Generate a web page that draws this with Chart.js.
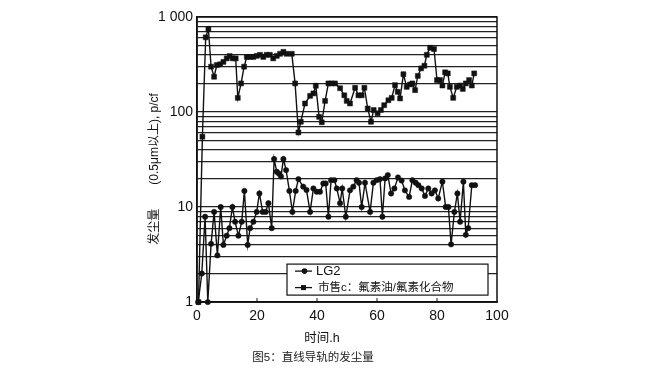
<!DOCTYPE html>
<html>
<head>
<meta charset="utf-8">
<title>图5：直线导轨的发尘量</title>
<script src="https://cdn.jsdelivr.net/npm/chart.js@4.4.1/dist/chart.umd.min.js"></script>
<style>
  html, body { margin: 0; padding: 0; background: #fff; }
  #wrap { width: 645px; height: 375px; }
</style>
</head>
<body>
<div id="wrap"><canvas id="dust" width="645" height="375"></canvas></div>
<script>
// ---- 数据 ----
const seriesNames = ["LG2", "市售c：氟素油/氟素化合物"];

// LG2 （圆点）
const lg2Hours = [0.4, 1.6, 2.7, 3.6, 4.7, 5.7, 6.8, 7.9, 8.8, 9.9, 10.8, 11.8, 12.7, 13.8, 14.9,
  15.8, 16.9, 17.7, 18.8, 19.9, 20.8, 21.9, 22.9, 23.8, 24.9, 25.7, 26.6, 27.3, 28, 28.8, 29.7,
  30.8, 31.8, 32.9, 33.8, 35.4, 36.5, 37.7, 38.8, 39.9, 41, 42.1, 42.9, 43.8, 44.7, 45.8, 46.6,
  47.7, 48.4, 49.6, 51, 52.1, 53.2, 54, 54.9, 56, 57.7, 58.8, 59.9, 61, 61.8, 62.7, 63.6, 64.7,
  65.8, 67, 68.2, 69.3, 70.7, 71.8, 72.9, 73.8, 74.9, 76, 77.1, 78.2, 79.3, 80.4, 81.8, 82.9,
  83.8, 84.7, 85.8, 86.8, 87.7, 88.8, 89.6, 90.4, 91.6, 92.7];
const lg2Values = [1, 2, 7.9, 1, 4.1, 8.9, 3.1, 10, 4, 5, 6, 10, 7, 5, 7,
  14.8, 4, 6, 7, 8.9, 13.9, 8.9, 8.9, 11, 6, 32, 23.5, 22.5, 21, 32, 24.5,
  14.8, 8.9, 14.8, 19.7, 16.4, 15.1, 8.9, 15.7, 14.5, 14.5, 17.7, 17.7, 7.9, 19.2, 19.2, 15.7,
  11, 15.7, 7.9, 15, 16.4, 19.2, 18, 10, 18, 8.9, 18, 19.2, 19.7, 7.9, 20, 21.7, 13.9,
  15.7, 20.5, 19, 15, 12.8, 19.2, 18, 17, 15.7, 13.1, 15.7, 13.9, 15, 12.3, 18.5, 10,
  10, 4.05, 8.9, 13.9, 7, 18.5, 5.1, 6, 17, 17];

// 市售c （方块）
const commHours = [0.5, 1.8, 2.9, 3.8, 4.7, 5.7, 6.6, 7.7, 8.8, 9.9, 10.9, 11.9, 12.9, 13.6, 14.7,
  15.7, 16.6, 17.7, 18.8, 19.9, 21, 22.1, 23.2, 24.3, 25.4, 26.6, 27.7, 28.8, 29.9, 31.6, 32.7,
  33.8, 34.6, 36, 37.7, 38.8, 39.6, 40.7, 41.6, 42.7, 43.8, 44.9, 46, 47.7, 49.1, 49.9, 51,
  52.7, 53.8, 54.9, 55.8, 56.9, 58, 58.9, 60.2, 61.3, 62.4, 63.8, 64.9, 66, 66.9, 67.7, 68.8,
  69.9, 71, 71.8, 72.7, 73.6, 74.7, 75.8, 76.6, 77.7, 79, 80, 81, 81.8, 82.7, 83.6, 84.3,
  85.4, 86.6, 87.7, 88.6, 89.6, 90.7, 91.6, 92.4];
const commValues = [1, 55, 611, 748, 300, 235, 312, 318, 337, 367, 388, 367, 367, 141, 200,
  300, 380, 380, 380, 390, 400, 380, 400, 400, 367, 390, 410, 430, 410, 410, 200,
  61, 79, 123, 148, 157, 189, 89, 78, 131, 200, 200, 200, 178, 150, 131, 123,
  180, 150, 150, 180, 109, 79, 105, 97, 105, 118, 133, 141, 192, 163, 139, 250,
  184, 195, 200, 170, 240, 288, 307, 400, 475, 460, 217, 217, 190, 262, 255, 184,
  141, 184, 190, 175, 200, 217, 190, 255];

// 坐标轴刻度
const xTicks = [0, 20, 40, 60, 80, 100];
const yGridValues = [1, 2, 3, 4, 5, 6, 7, 8, 9, 10, 20, 30, 40, 50, 60, 70, 80, 90,
  100, 200, 300, 400, 500, 600, 700, 800, 900, 1000];
const yTickLabels = { 1: "1", 10: "10", 100: "100", 1000: "1 000" };

const INK = "#111";
Chart.defaults.font.family = "'Liberation Sans', 'Noto Sans CJK SC', sans-serif";
Chart.defaults.color = INK;

const pairs = (hs, vs) => hs.map((h, i) => ({ x: h, y: vs[i] }));

// 图框 + 底边向内的小刻度
const framePlugin = {
  id: "frame",
  afterDatasetsDraw(chart) {
    const { ctx, chartArea: a } = chart;
    const xs = chart.scales.x;
    ctx.save();
    ctx.strokeStyle = INK;
    ctx.lineWidth = 1.5;
    ctx.strokeRect(a.left, a.top, a.right - a.left, a.bottom - a.top);
    ctx.lineWidth = 1;
    xTicks.slice(1, -1).forEach(t => {
      const px = xs.getPixelForValue(t);
      ctx.beginPath();
      ctx.moveTo(px, a.bottom);
      ctx.lineTo(px, a.bottom - 4);
      ctx.stroke();
    });
    ctx.restore();
  }
};

// 图内带框图例（右下角）
const boxLegendPlugin = {
  id: "boxLegend",
  afterDatasetsDraw(chart) {
    const { ctx, chartArea: a } = chart;
    const w = 201, h = 31;
    const x0 = a.right - 9 - w, y0 = a.bottom - 7 - h;
    ctx.save();
    ctx.fillStyle = "#fff";
    ctx.fillRect(x0, y0, w, h);
    ctx.strokeStyle = INK;
    ctx.lineWidth = 1.2;
    ctx.strokeRect(x0, y0, w, h);

    chart.data.datasets.forEach((ds, i) => {
      const y = y0 + 7 + i * 16.5;
      ctx.strokeStyle = INK;
      ctx.lineWidth = 1.3;
      ctx.beginPath();
      ctx.moveTo(x0 + 8, y);
      ctx.lineTo(x0 + 25, y);
      ctx.stroke();
      ctx.fillStyle = INK;
      if (ds.pointStyle === "rect") {
        ctx.fillRect(x0 + 16.5 - 2.5, y - 2.5, 5, 5);
      } else {
        ctx.beginPath();
        ctx.arc(x0 + 17.5, y, 2.8, 0, Math.PI * 2);
        ctx.fill();
      }
      ctx.font = (i === 0 ? "13px " : "11.5px ") + Chart.defaults.font.family;
      ctx.textBaseline = "middle";
      ctx.fillText(ds.label, x0 + 29 + i * 2, y + 0.5);
    });
    ctx.restore();
  }
};

new Chart(document.getElementById("dust"), {
  type: "line",
  data: {
    datasets: [
      {
        label: seriesNames[0],
        data: pairs(lg2Hours, lg2Values),
        borderColor: INK,
        backgroundColor: INK,
        borderWidth: 1.4,
        pointStyle: "circle",
        pointRadius: 2.7,
        pointBorderWidth: 0.5,
        tension: 0,
        clip: 6
      },
      {
        label: seriesNames[1],
        data: pairs(commHours, commValues),
        borderColor: INK,
        backgroundColor: INK,
        borderWidth: 1.4,
        pointStyle: "rect",
        pointRadius: 3.5,
        pointBorderWidth: 0.5,
        tension: 0,
        clip: 6
      }
    ]
  },
  options: {
    responsive: false,
    animation: false,
    events: [],
    layout: { padding: { left: 129, right: 148, top: 17, bottom: 10 } },
    plugins: {
      legend: { display: false },
      tooltip: { enabled: false },
      title: {
        display: true,
        position: "bottom",
        text: "图5：直线导轨的发尘量",
        color: "#222",
        font: { size: 11.5, weight: "normal" },
        padding: { top: 5.6, bottom: 0 }
      }
    },
    scales: {
      x: {
        type: "linear",
        min: 0,
        max: 100,
        afterBuildTicks: s => { s.ticks = xTicks.map(v => ({ value: v })); },
        afterFit: s => { s.height = 43.5; },
        ticks: { padding: 6, maxRotation: 0, font: { size: 14 }, color: INK },
        grid: { drawOnChartArea: false, drawTicks: false },
        border: { color: INK, width: 1.5 },
        title: {
          display: true,
          text: "时间.h\u3000\u3000\u3000\u3000",
          color: INK,
          font: { size: 12.5 },
          padding: { top: 0, bottom: 0 }
        }
      },
      y: {
        type: "logarithmic",
        min: 1,
        max: 1000,
        afterBuildTicks: s => { s.ticks = yGridValues.map(v => ({ value: v })); },
        afterFit: s => { s.width = 68; },
        ticks: {
          autoSkip: false,
          padding: 4,
          font: { size: 14 },
          color: INK,
          callback: v => yTickLabels[v] ?? ""
        },
        grid: { color: "#222", lineWidth: 1.25, drawTicks: false },
        border: { color: INK, width: 1.5 },
        title: {
          display: true,
          text: "发尘量\u3000\u3000(0.5μm以上), p/cf\u3000  ",
          color: INK,
          font: { size: 12 },
          padding: { top: 18, bottom: 0 }
        }
      }
    }
  },
  plugins: [framePlugin, boxLegendPlugin]
});
</script>
</body>
</html>
